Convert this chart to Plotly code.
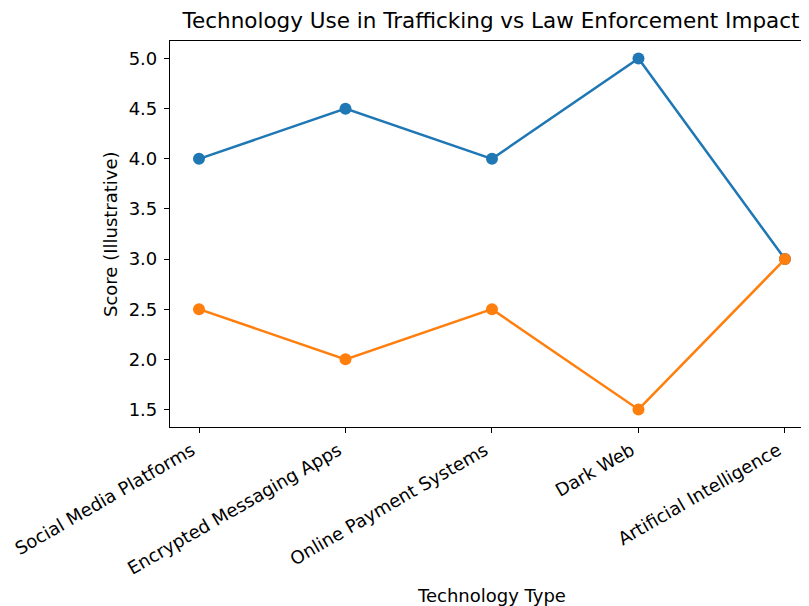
import plotly.graph_objects as go

categories = ["Social Media Platforms", "Encrypted Messaging Apps", "Online Payment Systems", "Dark Web", "Artificial Intelligence"]
trafficker_use = [4.0, 4.5, 4.0, 5.0, 3.0]
law_enforcement = [2.5, 2.0, 2.5, 1.5, 3.0]
y_ticks = [1.5, 2.0, 2.5, 3.0, 3.5, 4.0, 4.5, 5.0]

FONT = "DejaVu Sans, sans-serif"
xs = list(range(len(categories)))

fig = go.Figure()
fig.add_trace(go.Scatter(x=xs, y=trafficker_use, mode="lines+markers",
                         line=dict(color="#1f77b4", width=2.5),
                         marker=dict(color="#1f77b4", size=12), showlegend=False))
fig.add_trace(go.Scatter(x=xs, y=law_enforcement, mode="lines+markers",
                         line=dict(color="#ff7f0e", width=2.5),
                         marker=dict(color="#ff7f0e", size=12), showlegend=False))

# page has an 8px body margin, so the figure is drawn 8px smaller and offset
OFF = 8
W, H = 809 - OFF, 606 - OFF
L, R, T, B = 170 - OFF, 0, 41 - OFF, 606 - 427
PW, PH = W - L - R, H - T - B
fig.update_layout(
    width=W, height=H,
    margin=dict(l=L, r=R, t=T, b=B, autoexpand=False),
    plot_bgcolor="white", paper_bgcolor="white",
    font=dict(family=FONT, color="black", size=18),
    title=dict(text="Technology Use in Trafficking vs Law Enforcement Impact",
               x=(491 - OFF - L) / PW, xref="paper", xanchor="center",
               y=1 - (20 - OFF) / H, yref="container", yanchor="middle",
               font=dict(family=FONT, size=21.5, color="black")),
)
fig.update_xaxes(
    tickmode="array", tickvals=xs, ticktext=categories, tickangle=-30,
    range=[-0.198, 4.164], showgrid=False, zeroline=False, automargin=False,
    showline=True, linecolor="black", linewidth=1.2, mirror=True,
    ticks="outside", ticklen=5, tickwidth=1, tickcolor="black",
    tickfont=dict(size=18), ticklabelshift=-7,
)
fig.update_yaxes(
    tickmode="array", tickvals=y_ticks, ticktext=[f"{v:.1f}" for v in y_ticks],
    range=[1.325, 5.175], showgrid=False, zeroline=False, automargin=False,
    showline=True, linecolor="black", linewidth=1.2, mirror=False,
    ticks="outside", ticklen=5, tickwidth=1, tickcolor="black",
    tickfont=dict(size=18), ticklabelstandoff=3,
)
fig.add_annotation(text="Technology Type", xref="paper", yref="paper",
                   x=(491 - OFF - L) / PW, y=-(595 - 427) / PH,
                   xanchor="center", yanchor="middle", showarrow=False,
                   font=dict(family=FONT, size=18, color="black"))
fig.add_annotation(text="Score (Illustrative)", xref="paper", yref="paper",
                   x=-(170 - 110) / PW, y=0.5, textangle=-90,
                   xanchor="center", yanchor="middle", showarrow=False,
                   font=dict(family=FONT, size=18, color="black"))

fig.write_html("out.html")
